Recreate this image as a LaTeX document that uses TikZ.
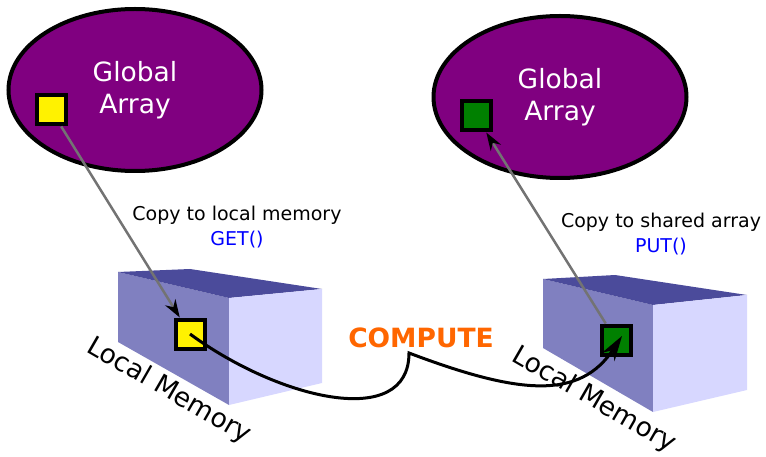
\documentclass[tikz,border=0pt]{standalone}
\usepackage{fontspec}
\setmainfont{DejaVu Sans}
\usetikzlibrary{shapes.geometric,arrows.meta}
\definecolor{garray}{HTML}{800080}
\definecolor{boxfront}{RGB}{128,128,192}
\definecolor{boxtop}{RGB}{75,75,155}
\definecolor{boxside}{RGB}{215,215,255}
\definecolor{gcell}{HTML}{008000}
\definecolor{computec}{HTML}{FF6600}
\begin{document}
\begin{tikzpicture}[x=1pt,y=-1pt]
			\tikzset{garr/.style={ellipse, line width=4pt, draw=black, fill=garray, text=white, minimum width=253pt, minimum height=162pt, align=center, font=\fontsize{26.5}{32}\selectfont},
			cell/.style={rectangle, line width=4pt, draw=black, minimum size=29pt, inner sep=0},
			copyarr/.style={line width=2.5pt, draw=black!55, -{Stealth[black, length=18pt, width=12pt]}},
			lbl/.style={align=center, font=\fontsize{19}{25}\selectfont},
			locmem/.style={rotate=-30, font=\fontsize{26.5}{30}\selectfont}}
\useasboundingbox (0,0) rectangle (766,457);

% local memory boxes
\fill[boxfront] (118,272) -- (229,298) -- (229,405) -- (118,342) -- cycle;
\fill[boxtop] (118,272) -- (190,269) -- (322,289) -- (229,298) -- cycle;
\fill[boxside] (229,298) -- (322,289) -- (322,383) -- (229,405) -- cycle;
\fill[boxfront] (543,279) -- (653,305) -- (653,412) -- (543,348) -- cycle;
\fill[boxtop] (543,279) -- (615,275) -- (747,295) -- (653,305) -- cycle;
\fill[boxside] (653,305) -- (747,295) -- (747,390) -- (653,412) -- cycle;

\node[garr] at (135,90) (ga1) {Global\\Array};
\node[garr] at (560,97) (ga2) {Global\\Array};
\node[cell, fill=yellow] at (51,110) (ysrc) {};
\node[cell, fill=gcell] at (476,116) (gdst) {};
\node[cell, fill=yellow] at (190,334) (ydst) {};
\node[cell, fill=gcell] at (616,340) (gsrc) {};

\node[lbl] at (237,227) (get) {Copy to local memory\\\textcolor{blue}{GET()}};
\node[lbl] at (661,234) (put) {Copy to shared array\\\textcolor{blue}{PUT()}};
\node[anchor=base, text=computec, font=\fontsize{26.5}{30}\selectfont\bfseries] at (421,347) (compute) {COMPUTE};
\node[locmem] at (169,391) (lm1) {Local Memory};
\node[locmem] at (594,400) (lm2) {Local Memory};
\coordinate (kink) at (409,353);

			\draw[copyarr] (ysrc) -- (ydst);
			\draw[copyarr] (gsrc) -- (gdst);
			\draw[line width=3pt, -{Stealth[length=25pt, width=15pt]}] (ydst.center) .. controls (280,400) and (409,430) .. (kink) .. controls (520,395) and (580,400) .. ([shift={(6,-4)}]gsrc.center);
		\end{tikzpicture}
\end{document}
